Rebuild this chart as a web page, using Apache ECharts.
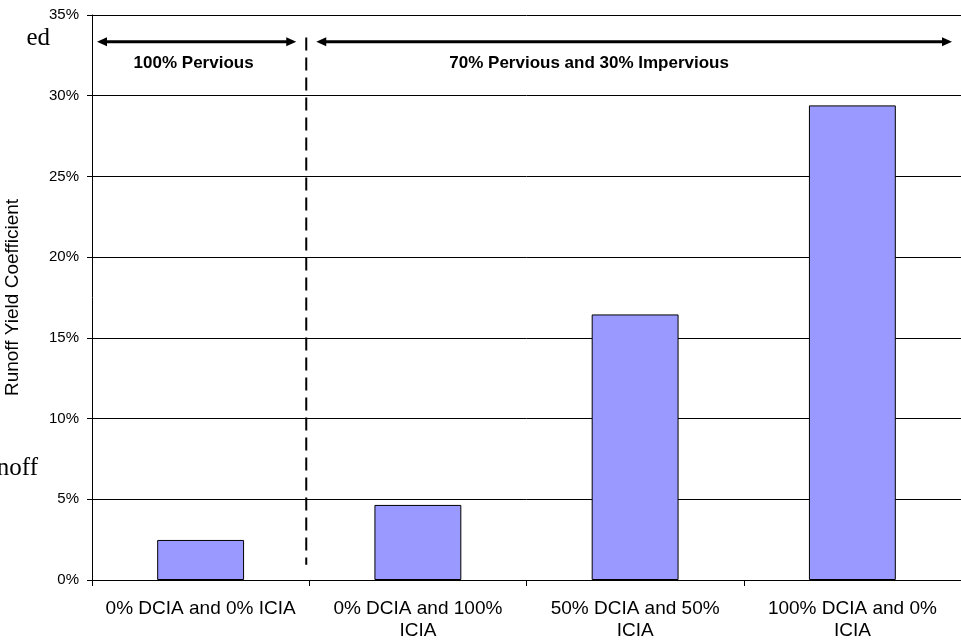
<!DOCTYPE html>
<html>
<head>
<meta charset="utf-8">
<script src="https://cdn.jsdelivr.net/npm/echarts@6/dist/echarts.min.js"></script>
<style>
  html, body { margin: 0; padding: 0; background: #fff; }
  #chart { width: 961px; height: 644px; }
</style>
</head>
<body>
<div id="chart"></div>
<script>
// Land-cover scenarios and their runoff yield coefficients (percent)
const categories = [
  '0% DCIA and 0% ICIA',
  '0% DCIA and 100%\nICIA',
  '50% DCIA and 50%\nICIA',
  '100% DCIA and 0%\nICIA'
];
const runoffYield = [2.48, 4.65, 16.45, 29.4];
const yTicks = [0, 5, 10, 15, 20, 25, 30, 35];

// Region annotations above the bars
const regionLabels = ['100% Pervious', '70% Pervious and 30% Impervious'];
const arrowLevel = 33.35;
const regionLabelLevel = 32.1;
const dividerRange = [0.95, 33.6];

const FONT = '"Liberation Sans", Arial, sans-serif';

const chart = echarts.init(document.getElementById('chart'), null, { renderer: 'canvas' });

chart.setOption({
  animation: false,
  backgroundColor: '#ffffff',
  grid: { left: 92, right: 0, top: 15, bottom: 64, containLabel: false, outerBoundsMode: 'none' },
  xAxis: {
    type: 'category',
    data: categories,
    boundaryGap: true,
    axisLine: { show: true, lineStyle: { color: '#000', width: 1 } },
    axisTick: { show: true, alignWithLabel: false, length: 6, lineStyle: { color: '#000' } },
    axisLabel: {
      color: '#000', fontFamily: FONT, fontSize: 19, margin: 18,
      lineHeight: 22, interval: 0
    },
    splitLine: { show: false }
  },
  yAxis: {
    type: 'value',
    min: yTicks[0],
    max: yTicks[yTicks.length - 1],
    interval: yTicks[1] - yTicks[0],
    name: 'Runoff Yield Coefficient',
    nameLocation: 'middle',
    nameGap: 70,
    nameTextStyle: { color: '#000', fontFamily: FONT, fontSize: 19 },
    axisLine: { show: true, lineStyle: { color: '#000', width: 1 } },
    axisTick: { show: true, length: 5, lineStyle: { color: '#000' } },
    axisLabel: {
      color: '#000', fontFamily: FONT, fontSize: 15, margin: 13,
      formatter: v => v + '%'
    },
    splitLine: { show: true, lineStyle: { color: '#000', width: 1 } }
  },
  series: [{
    type: 'bar',
    data: runoffYield,
    barCategoryGap: '60%',
    itemStyle: { color: '#9999FF', borderColor: '#000', borderWidth: 1 }
  }]
});

// Annotation overlay: divider between land-cover groups and span arrows
function px(catIndex, value) {
  return chart.convertToPixel({ xAxisIndex: 0, yAxisIndex: 0 }, [catIndex, value]);
}

function drawOverlay() {
  const c0 = px(0, 0), c1 = px(1, 0), c3 = px(3, 0);
  const band = c1[0] - c0[0];
  const plotLeft = c0[0] - band / 2;
  const plotRight = c3[0] + band / 2;
  const divX = (c0[0] + c1[0]) / 2 - 3;

  const yArrow = px(0, arrowLevel)[1];
  const yLabel = px(0, regionLabelLevel)[1];
  const yDivTop = px(0, dividerRange[1])[1];
  const yDivBot = px(0, dividerRange[0])[1];

  const head = 10, halfW = 4.5;
  function arrow(x1, x2) {
    return [
      { type: 'line', shape: { x1: x1 + head - 1, y1: yArrow, x2: x2 - head + 1, y2: yArrow },
        style: { stroke: '#000', lineWidth: 3 } },
      { type: 'polygon', shape: { points: [[x1, yArrow], [x1 + head, yArrow - halfW], [x1 + head, yArrow + halfW]] },
        style: { fill: '#000' } },
      { type: 'polygon', shape: { points: [[x2, yArrow], [x2 - head, yArrow - halfW], [x2 - head, yArrow + halfW]] },
        style: { fill: '#000' } }
    ];
  }

  const leftA = [plotLeft + 5, divX - 10];
  const rightA = [divX + 10, plotRight - 9];

  const elements = [
    { type: 'line', shape: { x1: divX, y1: yDivTop, x2: divX, y2: yDivBot },
      style: { stroke: '#000', lineWidth: 2, lineDash: [13, 7] } },
    ...arrow(leftA[0], leftA[1]),
    ...arrow(rightA[0], rightA[1]),
    { type: 'text', x: (leftA[0] + leftA[1]) / 2 - 3, y: yLabel + 1,
      style: { text: regionLabels[0], fill: '#000', font: 'bold 17px ' + FONT, align: 'center', verticalAlign: 'middle' } },
    { type: 'text', x: (rightA[0] + rightA[1]) / 2 - 45, y: yLabel + 1,
      style: { text: regionLabels[1], fill: '#000', font: 'bold 17px ' + FONT, align: 'center', verticalAlign: 'middle' } },
    // fragments of surrounding page text at the left margin
    { type: 'text', x: 50, y: 38,
      style: { text: 'ed', fill: '#000', font: '25px "Liberation Serif", "Times New Roman", serif', align: 'right', verticalAlign: 'middle' } },
    { type: 'text', x: 38, y: 468,
      style: { text: 'noff', fill: '#000', font: '25px "Liberation Serif", "Times New Roman", serif', align: 'right', verticalAlign: 'middle' } }
  ];

  chart.setOption({ graphic: { elements: elements } });
}

drawOverlay();
</script>
</body>
</html>
